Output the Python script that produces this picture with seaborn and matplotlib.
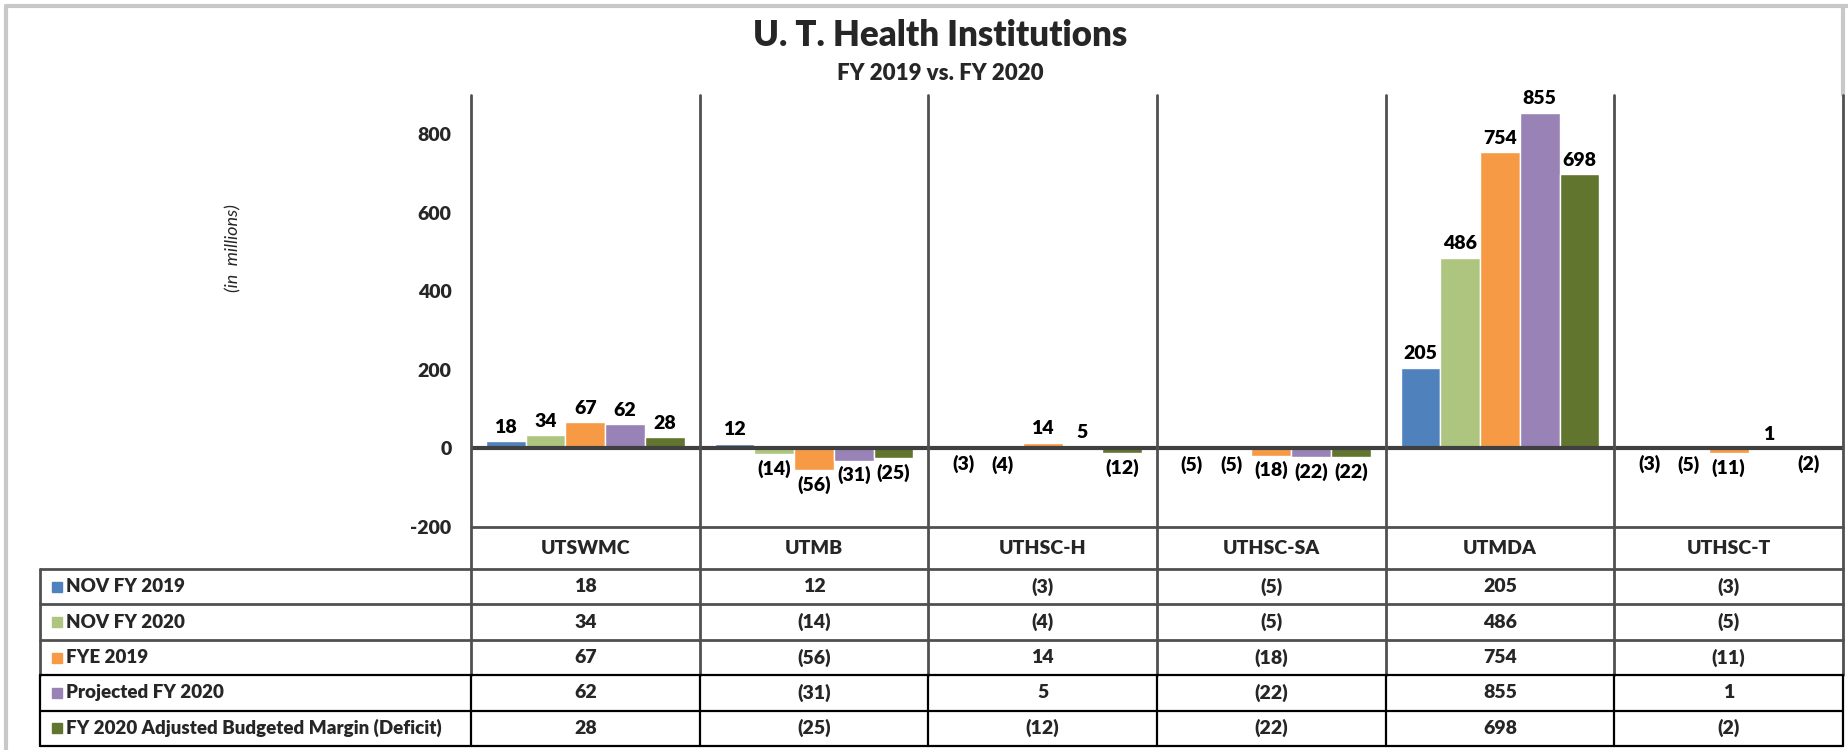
import pandas as pd
import numpy as np
import seaborn as sns
import matplotlib.pyplot as plt
from matplotlib.patches import Rectangle

institutions = ["UTSWMC", "UTMB", "UTHSC-H", "UTHSC-SA", "UTMDA", "UTHSC-T"]
series = ["NOV FY 2019", "NOV FY 2020", "FYE 2019", "Projected FY 2020",
          "FY 2020 Adjusted Budgeted Margin (Deficit)"]
nov_fy2019 = [18, 12, -3, -5, 205, -3]
nov_fy2020 = [34, -14, -4, -5, 486, -5]
fye_2019 = [67, -56, 14, -18, 754, -11]
projected_fy2020 = [62, -31, 5, -22, 855, 1]
adjusted_margin = [28, -25, -12, -22, 698, -2]
colors = ["#4F81BD", "#ADC57E", "#F79A46", "#9983B6", "#61752F"]

values = [nov_fy2019, nov_fy2020, fye_2019, projected_fy2020, adjusted_margin]
rows = []
for s, vals in zip(series, values):
    for inst, v in zip(institutions, vals):
        rows.append({"institution": inst, "series": s, "value": v})
df = pd.DataFrame(rows)


def fmt(v):
    return f"({abs(v)})" if v < 0 else f"{v}"


sns.set_style("white")
plt.rcParams["font.family"] = ["Lato", "DejaVu Sans"]
BOLD = "heavy"

W, H = 1848, 750
fig = plt.figure(figsize=(W / 100, H / 100), dpi=100)

# pixel layout
x0, x1 = 471, 1843
y_top, y_axis_bot = 95, 527
y_head = 569
row_h = (746 - y_head) / 5
tab_left = 40

ax = fig.add_axes([x0 / W, 1 - y_axis_bot / H, (x1 - x0) / W, (y_axis_bot - y_top) / H])
sns.barplot(data=df, x="institution", y="value", hue="series", order=institutions,
            hue_order=series, palette=colors, width=0.87, saturation=1,
            legend=False, ax=ax)
ax.set_xlim(-0.5, len(institutions) - 0.5)
ax.set_ylim(-200, 900)
ax.set_yticks([-200, 0, 200, 400, 600, 800])
ax.set_yticklabels(["-200", "0", "200", "400", "600", "800"], fontsize=14,
                   fontweight=BOLD)
ax.tick_params(axis="y", length=0, pad=14)
ax.set_xticks([])
ax.set_xlabel("")
ax.set_ylabel("")
for sp in ax.spines.values():
    sp.set_visible(False)
ax.axhline(0, color="#404040", lw=3, zorder=5)

for cont, vals in zip(ax.containers, values):
    ax.bar_label(cont, labels=[fmt(v) for v in vals], padding=4, fontsize=14,
                 fontweight=BOLD, color="black")

# overlay for table, separators and text
ov = fig.add_axes([0, 0, 1, 1])
ov.set_xlim(0, W)
ov.set_ylim(H, 0)
ov.axis("off")
ov.patch.set_alpha(0)

col_w = (x1 - x0) / len(institutions)
gray = "#505050"
# chart frame
ov.plot([6, W], [6, 6], color="#C8C8C8", lw=3)
ov.plot([6, 6], [6, H], color="#C8C8C8", lw=3)
ov.plot([x1, x1], [6, y_top], color="#C8C8C8", lw=3)

for i in range(len(institutions) + 1):
    xx = x0 + i * col_w
    ov.plot([xx, xx], [y_top, y_head + 3 * row_h], color=gray, lw=2)
    ov.plot([xx, xx], [y_head + 3 * row_h, y_head + 5 * row_h], color="black", lw=1.6)
ov.plot([tab_left, tab_left], [y_head, y_head + 3 * row_h], color=gray, lw=2)
ov.plot([tab_left, tab_left], [y_head + 3 * row_h, y_head + 5 * row_h], color="black", lw=1.6)

ov.plot([x0, x1], [y_axis_bot, y_axis_bot], color=gray, lw=2)
for k in range(6):
    yy = y_head + k * row_h
    c, lw = (gray, 2) if k < 3 else ("black", 1.6)
    ov.plot([tab_left, x1], [yy, yy], color=c, lw=lw)

for i, inst in enumerate(institutions):
    ov.text(x0 + (i + 0.5) * col_w, (y_axis_bot + y_head) / 2, inst, ha="center",
            va="center", fontsize=14, fontweight=BOLD)

for k, (s, vals, c) in enumerate(zip(series, values, colors)):
    yc = y_head + (k + 0.5) * row_h
    ov.add_patch(Rectangle((52, yc - 5), 10, 10, color=c))
    ov.text(66, yc, s, ha="left", va="center", fontsize=13.5, fontweight=BOLD)
    for i, v in enumerate(vals):
        ov.text(x0 + (i + 0.5) * col_w, yc, fmt(v), ha="center", va="center",
                fontsize=14, fontweight=BOLD)

ov.text(940, 35, "U. T. Health Institutions", ha="center", va="center",
        fontsize=25, fontweight=BOLD)
ov.text(940, 73, "FY 2019 vs. FY 2020", ha="center", va="center",
        fontsize=16, fontweight=BOLD)
ov.text(233, 248, "(in  millions)", ha="center", va="center", rotation=90,
        fontsize=13, fontstyle="italic")

fig.savefig("out.png", dpi=100)
